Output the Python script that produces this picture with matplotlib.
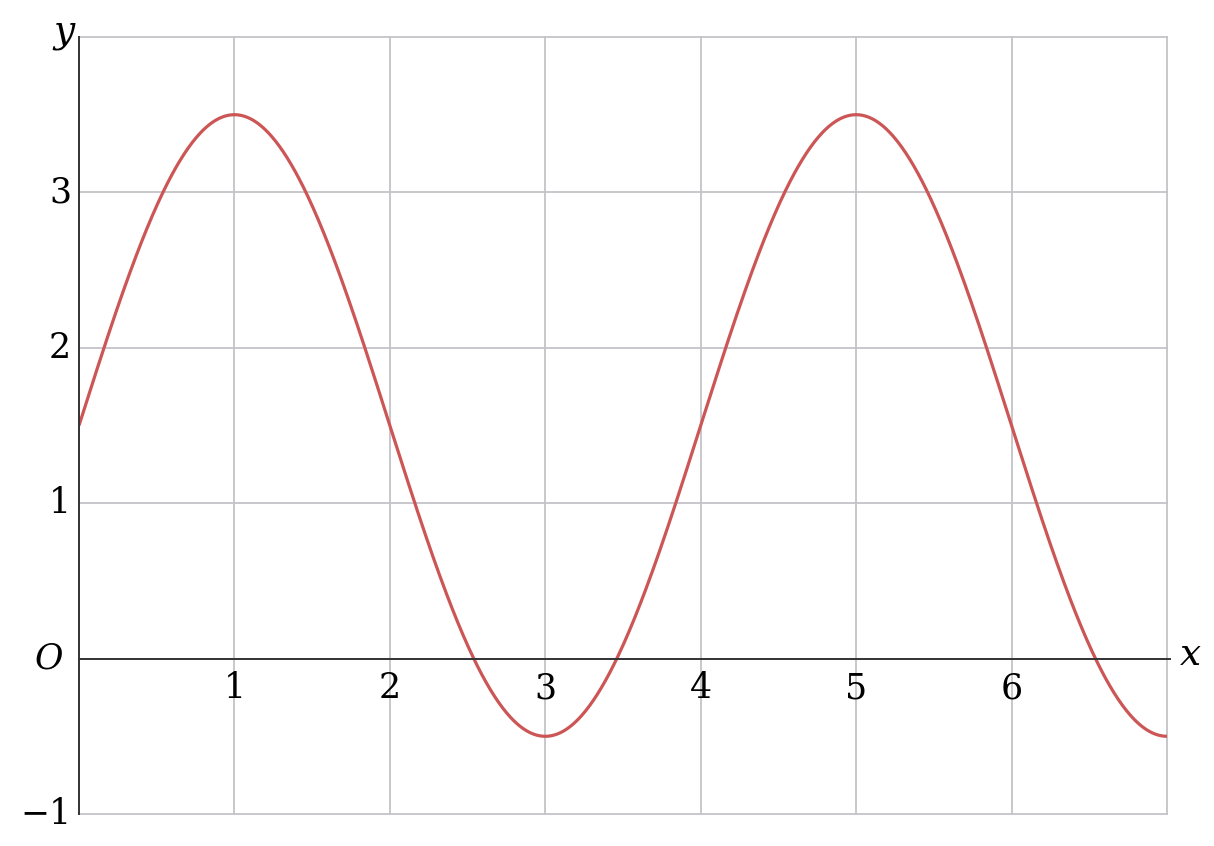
import numpy as np
import matplotlib
matplotlib.use("Agg")
import matplotlib.pyplot as plt

# Function: y = midline + amplitude * sin(2*pi*x/period)
midline = 1.5
amplitude = 2.0
period = 4.0
x_start, x_end = 0.0, 7.0

x_ticks = [1, 2, 3, 4, 5, 6]
x_tick_labels = ["1", "2", "3", "4", "5", "6"]
y_ticks = [-1, 1, 2, 3]
y_tick_labels = ["\u22121", "1", "2", "3"]

W, H = 1214, 846
fig = plt.figure(figsize=(W / 100, H / 100), dpi=100)
left, right, top, bottom = 79, 1167, 37, 814
ax = fig.add_axes([left / W, 1 - bottom / H, (right - left) / W, (bottom - top) / H])

ax.set_xlim(0, 7)
ax.set_ylim(-1, 4)

grid_col = "#c4c4c8"
for gx in range(1, 8):
    ax.plot([gx, gx], [-1, 4], color=grid_col, lw=1.3, zorder=1, clip_on=False)
for gy in range(-1, 5):
    ax.plot([0, 7], [gy, gy], color=grid_col, lw=1.3, zorder=1, clip_on=False)

xs = np.linspace(x_start, x_end, 800)
ys = midline + amplitude * np.sin(2 * np.pi * xs / period)
ax.plot(xs, ys, color="#cc5656", lw=2.3, zorder=3, solid_capstyle="butt")

for s in ax.spines.values():
    s.set_visible(False)
ax.set_xticks([])
ax.set_yticks([])

# y-axis line
ax.plot([0, 0], [-1, 4], color="#333333", lw=1.4, zorder=4, clip_on=False)
# x-axis line
ax.plot([0, 7.02], [0, 0], color="#333333", lw=1.4, zorder=4, clip_on=False)

font = "DejaVu Serif"
fs = 25
for xv, lab in zip(x_ticks, x_tick_labels):
    ax.text(xv, -0.08, lab, ha="center", va="top", fontsize=fs, family=font, zorder=5)
for yv, lab in zip(y_ticks, y_tick_labels):
    ax.text(-0.05, yv, lab, ha="right", va="center", fontsize=fs, family=font, clip_on=False)
ax.text(-0.1, 0.0, "O", ha="right", va="center", fontsize=fs, family=font, style="italic", clip_on=False)
ax.text(7.08, 0.02, "x", ha="left", va="center", fontsize=fs + 2, family=font, style="italic", clip_on=False)
ax.text(-0.03, 4.03, "y", ha="right", va="center", fontsize=fs + 2, family=font, style="italic", clip_on=False)

fig.savefig("out.png", dpi=100)
